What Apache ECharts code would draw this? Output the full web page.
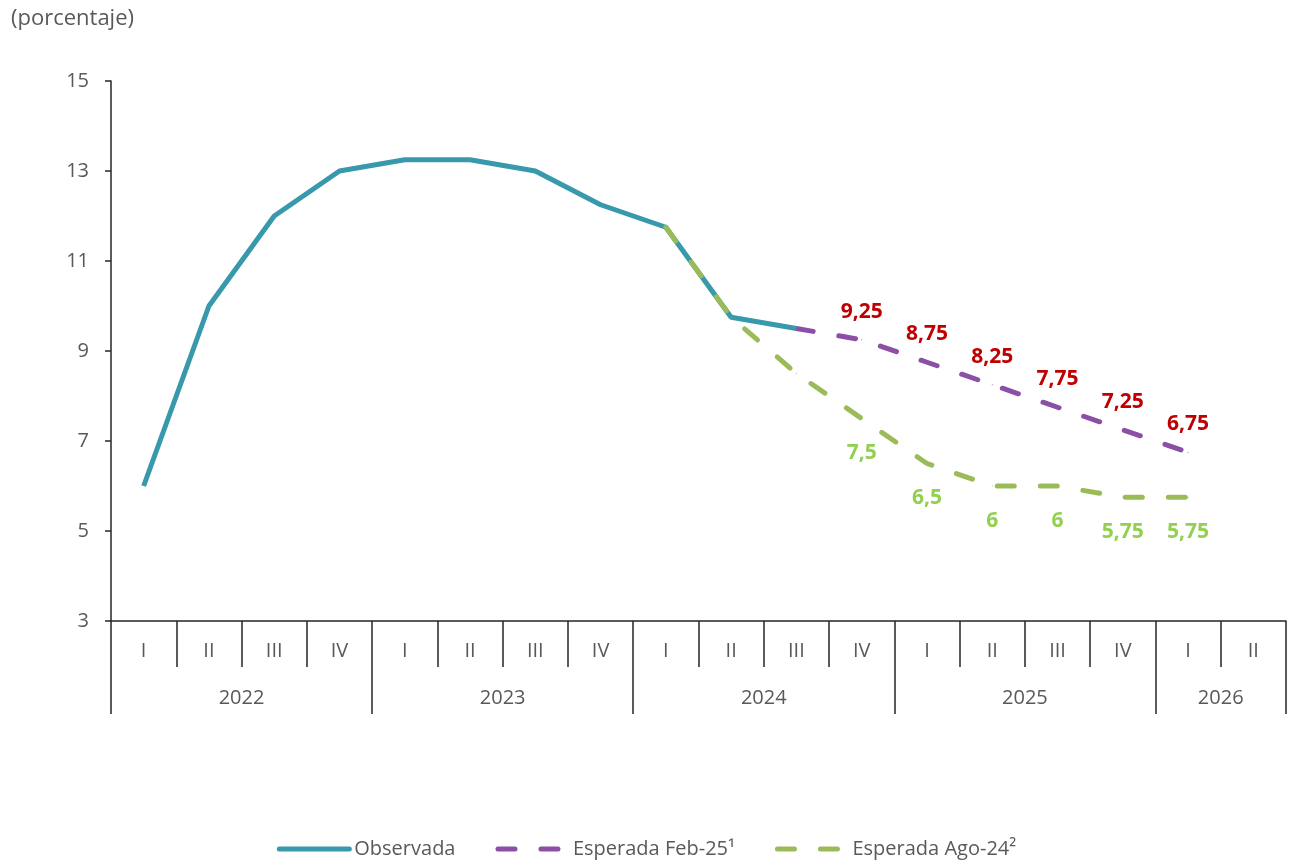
<!DOCTYPE html>
<html>
<head>
<meta charset="utf-8">
<script src="https://cdn.jsdelivr.net/npm/echarts@6/dist/echarts.min.js"></script>
<style>
  html, body { margin: 0; padding: 0; background: #fff; }
  #chart { width: 1293px; height: 865px; }
</style>
</head>
<body>
<div id="chart"></div>
<script>
// quarters, one per category
const quarters = ['I','II','III','IV','I','II','III','IV','I','II','III','IV','I','II','III','IV','I','II']
// years and how many quarters each spans
const years = ['2022','2023','2024','2025','2026']
const yearSpans = [4, 4, 4, 4, 2]

const observada = [6, 10, 12, 13, 13.25, 13.25, 13, 12.25, 11.75, 9.75, 9.5, null, null, null, null, null, null, null]
const esperadaFeb25 = [null, null, null, null, null, null, null, null, null, null, 9.5, 9.25, 8.75, 8.25, 7.75, 7.25, 6.75, null]
const esperadaAgo24 = [null, null, null, null, null, null, null, null, 11.75, 9.75, 8.5, 7.5, 6.5, 6, 6, 5.75, 5.75, null]
// which points carry a value label
const labelFrom = 11
const labelTo = 16

const yTicks = { min: 3, max: 15, interval: 2 }

// year axis: half-quarter slots, labels at the middle of each year, ticks at year edges
const yearSlots = []
const yearEdges = [0]
let pos = 0
years.forEach((y, i) => {
  const span = yearSpans[i] * 2
  for (let k = 0; k < span; k++) yearSlots.push(k === span / 2 ? y : '')
  pos += span
  yearEdges.push(pos)
})
yearSlots.push('')

const gray = '#595959'
const axisColor = '#262626'
const font = 'Open Sans'
const dash = [17, 26]

const chart = echarts.init(document.getElementById('chart'))

const showLabel = (color, position, distance) => ({
  show: true,
  position: position,
  distance: distance,
  color: color,
  fontFamily: font,
  fontWeight: 'bold',
  fontSize: 21,
  formatter: p => (p.dataIndex >= labelFrom && p.dataIndex <= labelTo) ? String(p.value).replace('.', ',') : ''
})

chart.setOption({
  animation: false,
  textStyle: { fontFamily: font },
  title: {
    text: '(porcentaje)',
    left: 6,
    top: 3,
    textStyle: { color: gray, fontSize: 22, fontWeight: 'normal', fontFamily: font }
  },
  grid: { left: 111, right: 7, top: 81, bottom: 244 },
  legend: {
    bottom: 1,
    left: 'center',
    itemWidth: 70,
    itemHeight: 6,
    itemGap: 40,
    itemStyle: { opacity: 0 },
    lineStyle: { width: 5, cap: 'round' },
    textStyle: { color: gray, fontSize: 20, fontFamily: font },
    data: ['Observada', 'Esperada Feb-25¹', 'Esperada Ago-24²']
  },
  xAxis: [
    {
      type: 'category',
      data: quarters,
      boundaryGap: true,
      position: 'bottom',
      axisLine: { lineStyle: { color: axisColor, width: 1.5 } },
      axisTick: { show: true, length: 46, interval: 0, lineStyle: { color: axisColor, width: 1.5 } },
      axisLabel: { interval: 0, color: gray, fontSize: 20, margin: 20, fontFamily: font }
    },
    {
      type: 'category',
      data: yearSlots,
      boundaryGap: false,
      position: 'bottom',
      axisLine: { show: false },
      axisTick: {
        show: true,
        length: 93,
        interval: (i) => yearEdges.indexOf(i) >= 0,
        lineStyle: { color: axisColor, width: 1.5 }
      },
      axisLabel: { interval: 0, color: gray, fontSize: 20, margin: 67, fontFamily: font, showMinLabel: true, showMaxLabel: true }
    }
  ],
  yAxis: {
    type: 'value',
    min: yTicks.min,
    max: yTicks.max,
    interval: yTicks.interval,
    axisLine: { show: true, lineStyle: { color: axisColor, width: 1.5 } },
    axisTick: { show: true, length: 6, lineStyle: { color: axisColor, width: 1.5 } },
    splitLine: { show: false },
    axisLabel: { color: gray, fontSize: 20, margin: 22, fontFamily: font }
  },
  series: [
    {
      name: 'Observada',
      type: 'line',
      data: observada,
      symbol: 'none',
      lineStyle: { color: '#3799AB', width: 5 },
      itemStyle: { color: '#3799AB' },
      z: 3
    },
    {
      name: 'Esperada Feb-25¹',
      type: 'line',
      data: esperadaFeb25,
      symbol: 'circle',
      symbolSize: 1,
      showSymbol: true,
      lineStyle: { color: '#8B4FA6', width: 5, type: dash, cap: 'round' },
      itemStyle: { color: '#8B4FA6' },
      label: showLabel('#C00000', 'top', 17),
      z: 2
    },
    {
      name: 'Esperada Ago-24²',
      type: 'line',
      data: esperadaAgo24,
      symbol: 'circle',
      symbolSize: 1,
      showSymbol: true,
      lineStyle: { color: '#9BBB59', width: 5, type: dash, cap: 'round' },
      itemStyle: { color: '#9BBB59' },
      label: showLabel('#92D050', 'bottom', 24),
      z: 4
    }
  ]
})
</script>
</body>
</html>
